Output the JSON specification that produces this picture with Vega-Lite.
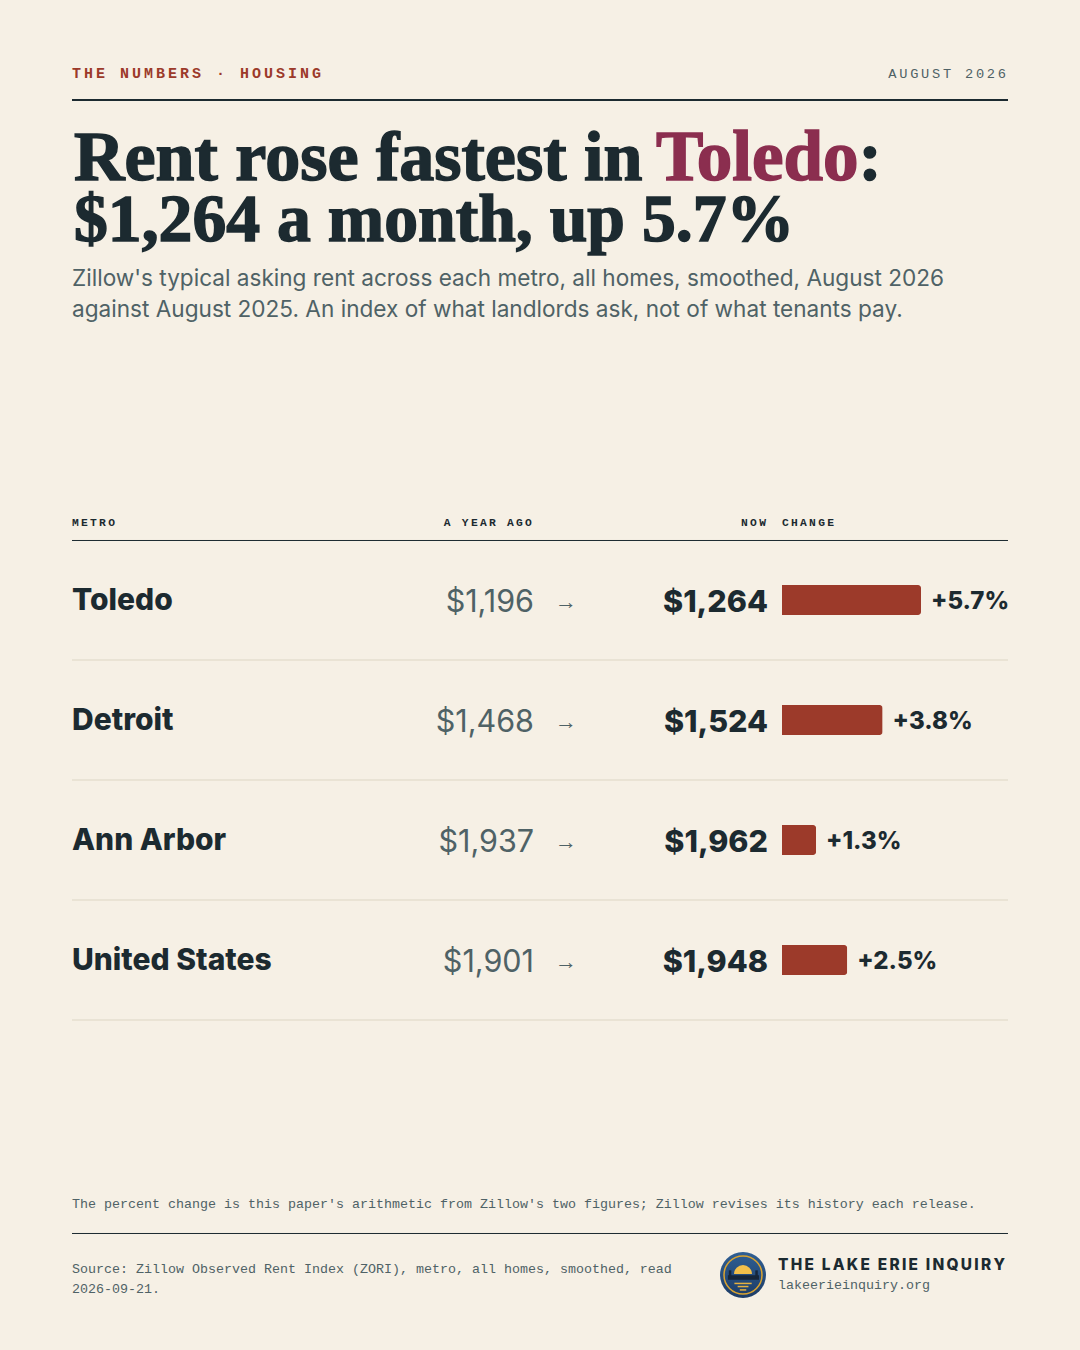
{
  "$schema": "https://vega.github.io/schema/vega-lite/v6.json",
  "width": 1080,
  "height": 1350,
  "autosize": {"type": "fit", "contains": "padding"},
  "padding": 0,
  "background": "#f6f0e5",
  "config": {"view": {"stroke": null}, "axis": {"disable": true}, "text": {"baseline": "alphabetic"}},
  "datasets": {
    "rows": [
      {"metro": "Toledo", "year_ago": 1196, "now": 1264, "change": 0.0569},
      {"metro": "Detroit", "year_ago": 1468, "now": 1524, "change": 0.0381},
      {"metro": "Ann Arbor", "year_ago": 1937, "now": 1962, "change": 0.0129},
      {"metro": "United States", "year_ago": 1901, "now": 1948, "change": 0.0247}
    ]
  },
  "resolve": {"scale": {"x": "independent", "y": "independent"}},
  "layer": [
    {
      "layer": [
        {
          "data": {"values": [{"t": "T\u2009H\u2009E\u2009 \u2009N\u2009U\u2009M\u2009B\u2009E\u2009R\u2009S\u2009 \u2009·\u2009 \u2009H\u2009O\u2009U\u2009S\u2009I\u2009N\u2009G"}]},
          "mark": {"type": "text", "align": "left", "font": "Liberation Mono", "fontSize": 15, "fontWeight": "bold", "color": "#9c3a2a"},
          "encoding": {
            "x": {"datum": 6.667, "type": "quantitative", "scale": {"domain": [0, 100]}},
            "y": {"datum": 5.778, "type": "quantitative", "scale": {"domain": [0, 100], "reverse": true}},
            "text": {"field": "t"}
          }
        },
        {
          "data": {"values": [{"t": "A\u2009U\u2009G\u2009U\u2009S\u2009T\u2009 \u20092\u20090\u20092\u20096"}]},
          "mark": {"type": "text", "align": "right", "font": "Liberation Mono", "fontSize": 13.7, "color": "#4f6266"},
          "encoding": {"x": {"datum": 93.15, "type": "quantitative"}, "y": {"datum": 5.778, "type": "quantitative"}, "text": {"field": "t"}}
        },
        {
          "data": {"values": [{"t": "Rent rose fastest in"}]},
          "mark": {"type": "text", "align": "left", "font": "Liberation Serif", "fontSize": 70, "fontWeight": "bold", "color": "#1c2a30", "stroke": "#1c2a30", "strokeWidth": 1.5},
          "encoding": {"x": {"datum": 6.85, "type": "quantitative"}, "y": {"datum": 13.333, "type": "quantitative"}, "text": {"field": "t"}}
        },
        {
          "data": {"values": [{"t": "Toledo"}]},
          "mark": {"type": "text", "align": "left", "font": "Liberation Serif", "fontSize": 71, "fontWeight": "bold", "color": "#8b2e4f", "stroke": "#8b2e4f", "strokeWidth": 1.5},
          "encoding": {"x": {"datum": 60.74, "type": "quantitative"}, "y": {"datum": 13.333, "type": "quantitative"}, "text": {"field": "t"}}
        },
        {
          "data": {"values": [{"t": ":"}]},
          "mark": {"type": "text", "align": "left", "font": "Liberation Serif", "fontSize": 70, "fontWeight": "bold", "color": "#1c2a30", "stroke": "#1c2a30", "strokeWidth": 1.5},
          "encoding": {"x": {"datum": 79.5, "type": "quantitative"}, "y": {"datum": 13.333, "type": "quantitative"}, "text": {"field": "t"}}
        },
        {
          "data": {"values": [{"t": "$1,264 a month, up 5.7%"}]},
          "mark": {"type": "text", "align": "left", "font": "Liberation Serif", "fontSize": 67.7, "fontWeight": "bold", "color": "#1c2a30", "stroke": "#1c2a30", "strokeWidth": 1.5},
          "encoding": {"x": {"datum": 6.85, "type": "quantitative"}, "y": {"datum": 17.852, "type": "quantitative"}, "text": {"field": "t"}}
        },
        {
          "data": {"values": [{"t": "Zillow's typical asking rent across each metro, all homes, smoothed, August 2026"}]},
          "mark": {"type": "text", "align": "left", "font": "Inter", "fontSize": 22.6, "color": "#4f6266"},
          "encoding": {"x": {"datum": 6.667, "type": "quantitative"}, "y": {"datum": 21.185, "type": "quantitative"}, "text": {"field": "t"}}
        },
        {
          "data": {"values": [{"t": "against August 2025. An index of what landlords ask, not of what tenants pay."}]},
          "mark": {"type": "text", "align": "left", "font": "Inter", "fontSize": 22.6, "color": "#4f6266"},
          "encoding": {"x": {"datum": 6.667, "type": "quantitative"}, "y": {"datum": 23.481, "type": "quantitative"}, "text": {"field": "t"}}
        },
        {
          "data": {"values": [{"t": "M\u2009E\u2009T\u2009R\u2009O"}]},
          "mark": {"type": "text", "align": "left", "font": "Liberation Mono", "fontSize": 11.3, "fontWeight": "bold", "color": "#1c2a30"},
          "encoding": {"x": {"datum": 6.667, "type": "quantitative"}, "y": {"datum": 38.963, "type": "quantitative"}, "text": {"field": "t"}}
        },
        {
          "data": {"values": [{"t": "A\u2009 \u2009Y\u2009E\u2009A\u2009R\u2009 \u2009A\u2009G\u2009O"}]},
          "mark": {"type": "text", "align": "right", "font": "Liberation Mono", "fontSize": 11.3, "fontWeight": "bold", "color": "#1c2a30"},
          "encoding": {"x": {"datum": 49.25, "type": "quantitative"}, "y": {"datum": 38.963, "type": "quantitative"}, "text": {"field": "t"}}
        },
        {
          "data": {"values": [{"t": "N\u2009O\u2009W"}]},
          "mark": {"type": "text", "align": "right", "font": "Liberation Mono", "fontSize": 11.3, "fontWeight": "bold", "color": "#1c2a30"},
          "encoding": {"x": {"datum": 70.92, "type": "quantitative"}, "y": {"datum": 38.963, "type": "quantitative"}, "text": {"field": "t"}}
        },
        {
          "data": {"values": [{"t": "C\u2009H\u2009A\u2009N\u2009G\u2009E"}]},
          "mark": {"type": "text", "align": "left", "font": "Liberation Mono", "fontSize": 11.3, "fontWeight": "bold", "color": "#1c2a30"},
          "encoding": {"x": {"datum": 72.407, "type": "quantitative"}, "y": {"datum": 38.963, "type": "quantitative"}, "text": {"field": "t"}}
        },
        {
          "data": {"values": [{"t": "The percent change is this paper's arithmetic from Zillow's two figures; Zillow revises its history each release."}]},
          "mark": {"type": "text", "align": "left", "font": "Liberation Mono", "fontSize": 13.33, "color": "#4f6266"},
          "encoding": {"x": {"datum": 6.667, "type": "quantitative"}, "y": {"datum": 89.481, "type": "quantitative"}, "text": {"field": "t"}}
        },
        {
          "data": {"values": [{"t": "Source: Zillow Observed Rent Index (ZORI), metro, all homes, smoothed, read"}]},
          "mark": {"type": "text", "align": "left", "font": "Liberation Mono", "fontSize": 13.33, "color": "#4f6266"},
          "encoding": {"x": {"datum": 6.667, "type": "quantitative"}, "y": {"datum": 94.296, "type": "quantitative"}, "text": {"field": "t"}}
        },
        {
          "data": {"values": [{"t": "2026-09-21."}]},
          "mark": {"type": "text", "align": "left", "font": "Liberation Mono", "fontSize": 13.33, "color": "#4f6266"},
          "encoding": {"x": {"datum": 6.667, "type": "quantitative"}, "y": {"datum": 95.778, "type": "quantitative"}, "text": {"field": "t"}}
        },
        {
          "data": {"values": [{"t": "T\u2009H\u2009E\u2009 \u2009L\u2009A\u2009K\u2009E\u2009 \u2009E\u2009R\u2009I\u2009E\u2009 \u2009I\u2009N\u2009Q\u2009U\u2009I\u2009R\u2009Y"}]},
          "mark": {"type": "text", "align": "left", "font": "Inter", "fontSize": 15.4, "fontWeight": 800, "color": "#1c2a30"},
          "encoding": {"x": {"datum": 72.037, "type": "quantitative"}, "y": {"datum": 94.074, "type": "quantitative"}, "text": {"field": "t"}}
        },
        {
          "data": {"values": [{"t": "lakeerieinquiry.org"}]},
          "mark": {"type": "text", "align": "left", "font": "Liberation Mono", "fontSize": 13.33, "color": "#4f6266"},
          "encoding": {"x": {"datum": 72.037, "type": "quantitative"}, "y": {"datum": 95.481, "type": "quantitative"}, "text": {"field": "t"}}
        },
        {
          "data": {"values": [{"rule": "top"}]},
          "mark": {"type": "rule", "color": "#1c2a30", "strokeWidth": 2},
          "encoding": {"x": {"datum": 6.667, "type": "quantitative"}, "x2": {"datum": 93.333}, "y": {"datum": 7.407, "type": "quantitative"}}
        },
        {
          "data": {"values": [{"rule": "head"}]},
          "mark": {"type": "rule", "color": "#1c2a30", "strokeWidth": 1},
          "encoding": {"x": {"datum": 6.667, "type": "quantitative"}, "x2": {"datum": 93.333}, "y": {"datum": 40.037, "type": "quantitative"}}
        },
        {
          "data": {"values": [{"rule": "foot"}]},
          "mark": {"type": "rule", "color": "#1c2a30", "strokeWidth": 1},
          "encoding": {"x": {"datum": 6.667, "type": "quantitative"}, "x2": {"datum": 93.333}, "y": {"datum": 91.37, "type": "quantitative"}}
        },
        {
          "data": {"values": [{"part": "seal"}]},
          "mark": {"type": "point", "filled": true, "size": 2116, "opacity": 1, "strokeWidth": 0, "fill": {"gradient": "linear", "x1": 0, "y1": 0, "x2": 0, "y2": 1, "stops": [{"offset": 0, "color": "#2f5f94"}, {"offset": 1, "color": "#1d3c66"}]}},
          "encoding": {"x": {"datum": 68.796, "type": "quantitative"}, "y": {"datum": 94.444, "type": "quantitative"}}
        },
        {
          "data": {"values": [{"part": "ring"}]},
          "mark": {"type": "point", "filled": false, "size": 1444, "opacity": 1, "color": "#d9a330", "strokeWidth": 1.5},
          "encoding": {"x": {"datum": 68.796, "type": "quantitative"}, "y": {"datum": 94.444, "type": "quantitative"}}
        },
        {
          "data": {"values": [{"part": "sun"}]},
          "mark": {"type": "arc", "radius": 9, "theta": -1.5708, "theta2": 1.5708, "color": "#f2bf4a"},
          "encoding": {"x": {"datum": 68.796, "type": "quantitative"}, "y": {"datum": 94.37, "type": "quantitative"}}
        },
        {
          "data": {"values": [{"part": "lake"}]},
          "mark": {"type": "rule", "color": "#16263a", "strokeWidth": 4.5},
          "encoding": {"x": {"datum": 67.4, "type": "quantitative"}, "x2": {"datum": 70.28}, "y": {"datum": 94.63, "type": "quantitative"}}
        },
        {
          "data": {"values": [{"part": "tower"}]},
          "mark": {"type": "rule", "color": "#16263a", "strokeWidth": 2.5},
          "encoding": {"x": {"datum": 67.6, "type": "quantitative"}, "y": {"datum": 94.1, "type": "quantitative"}, "y2": {"datum": 94.6}}
        },
        {
          "data": {"values": [{"part": "tower"}]},
          "mark": {"type": "rule", "color": "#16263a", "strokeWidth": 2.5},
          "encoding": {"x": {"datum": 70.05, "type": "quantitative"}, "y": {"datum": 94.1, "type": "quantitative"}, "y2": {"datum": 94.6}}
        },
        {
          "data": {"values": [{"part": "reflection"}]},
          "mark": {"type": "rule", "color": "#e6b13f", "strokeWidth": 1.5},
          "encoding": {"x": {"datum": 68.0, "type": "quantitative"}, "x2": {"datum": 69.6}, "y": {"datum": 95.07, "type": "quantitative"}}
        },
        {
          "data": {"values": [{"part": "reflection"}]},
          "mark": {"type": "rule", "color": "#e6b13f", "strokeWidth": 1.5},
          "encoding": {"x": {"datum": 68.3, "type": "quantitative"}, "x2": {"datum": 69.3}, "y": {"datum": 95.3, "type": "quantitative"}}
        },
        {
          "data": {"values": [{"part": "reflection"}]},
          "mark": {"type": "rule", "color": "#e6b13f", "strokeWidth": 1.5},
          "encoding": {"x": {"datum": 68.5, "type": "quantitative"}, "x2": {"datum": 69.1}, "y": {"datum": 95.55, "type": "quantitative"}}
        }
      ]
    },
    {
      "data": {"name": "rows"},
      "layer": [
        {
          "mark": {"type": "rule", "color": "#ddd6c4", "strokeWidth": 1},
          "encoding": {
            "x": {"datum": 6.667, "type": "quantitative", "scale": {"domain": [0, 100]}},
            "x2": {"datum": 93.333},
            "y": {"field": "metro", "type": "nominal", "bandPosition": 1, "sort": null, "scale": {"domain": ["Toledo", "Detroit", "Ann Arbor", "United States"], "range": [540, 1020], "paddingInner": 0, "paddingOuter": 0}}
          }
        },
        {
          "mark": {"type": "text", "align": "left", "font": "Inter", "fontSize": 30, "fontWeight": 800, "color": "#1c2a30", "baseline": "middle", "dy": 1},
          "encoding": {"x": {"datum": 6.667, "type": "quantitative"}, "y": {"field": "metro", "type": "nominal"}, "text": {"field": "metro"}}
        },
        {
          "mark": {"type": "text", "align": "right", "font": "Inter", "fontSize": 30.5, "color": "#4f6266", "baseline": "middle", "dy": 2.5},
          "encoding": {"x": {"datum": 49.444, "type": "quantitative"}, "y": {"field": "metro", "type": "nominal"}, "text": {"field": "year_ago", "type": "quantitative", "format": "$,"}}
        },
        {
          "mark": {"type": "text", "font": "Liberation Sans", "fontSize": 22, "color": "#4f6266", "baseline": "middle", "dy": 1.5},
          "encoding": {"x": {"datum": 52.407, "type": "quantitative"}, "y": {"field": "metro", "type": "nominal"}, "text": {"value": "→"}}
        },
        {
          "mark": {"type": "text", "align": "right", "font": "Inter", "fontSize": 30.5, "fontWeight": 800, "color": "#1c2a30", "baseline": "middle", "dy": 2.5},
          "encoding": {"x": {"datum": 71.111, "type": "quantitative"}, "y": {"field": "metro", "type": "nominal"}, "text": {"field": "now", "type": "quantitative", "format": "$,"}}
        }
      ]
    },
    {
      "data": {"name": "rows"},
      "layer": [
        {
          "mark": {"type": "bar", "height": 30, "color": "#9c3a2a", "cornerRadiusEnd": 3},
          "encoding": {
            "x": {"field": "change", "type": "quantitative", "scale": {"domain": [0, 0.05265], "range": [782, 921], "clamp": true, "nice": false}},
            "y": {"field": "metro", "type": "nominal", "sort": null, "scale": {"domain": ["Toledo", "Detroit", "Ann Arbor", "United States"], "range": [540, 1020], "paddingInner": 0, "paddingOuter": 0}}
          }
        },
        {
          "mark": {"type": "text", "align": "left", "font": "Inter", "fontSize": 24, "fontWeight": 800, "color": "#1c2a30", "baseline": "middle", "dx": 10, "dy": 1.5},
          "encoding": {"x": {"field": "change", "type": "quantitative"}, "y": {"field": "metro", "type": "nominal"}, "text": {"field": "change", "type": "quantitative", "format": "+.1%"}}
        }
      ]
    }
  ]
}
